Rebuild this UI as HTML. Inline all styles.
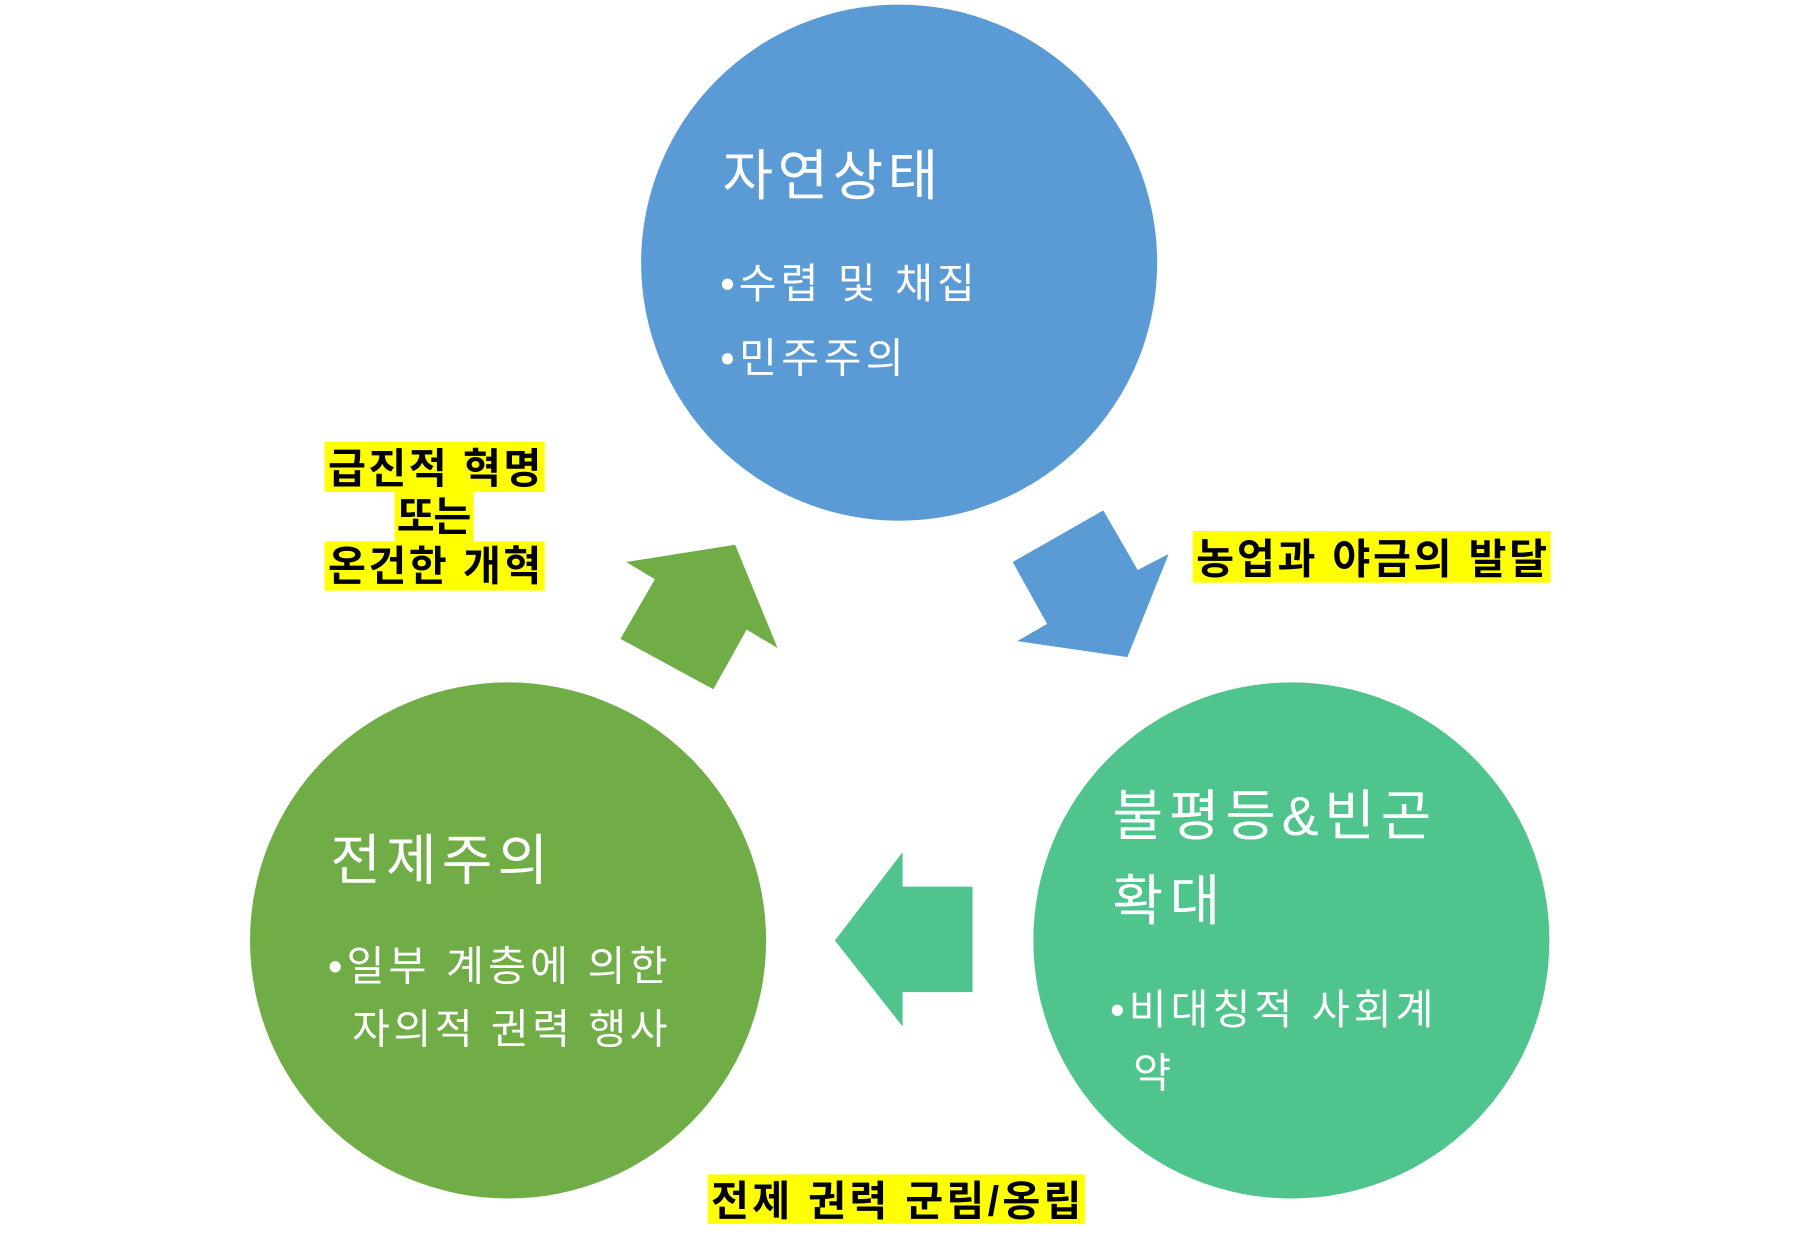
<!DOCTYPE html>
<html><head><meta charset="utf-8"><style>html,body{margin:0;padding:0;background:#fff;}svg{display:block}</style></head>
<body>
<svg width="1796" height="1249" viewBox="0 0 1566 1089" xmlns="http://www.w3.org/2000/svg" preserveAspectRatio="none">
<style>
.w{fill:#fff;font-family:"Liberation Sans","Noto Sans CJK KR",sans-serif;}
.b{fill:#000;font-weight:bold;font-family:"Liberation Sans","Noto Sans CJK KR",sans-serif;font-size:36px;}
</style>
<circle cx="784" cy="229" r="225" fill="#5B9BD5"/>
<circle cx="443" cy="820" r="225" fill="#70AD47"/>
<circle cx="1126" cy="820" r="225" fill="#4FC58D"/>
<polygon points="883,490 962,445 992,497 1019,483 983,573 887,559 913,544" fill="#5B9BD5"/>
<polygon points="541,557 571,505 546,490 641,475 678,565 651,549 622,601" fill="#70AD47"/>
<polygon points="848,773 787,773 787,743 728,820 787,895 787,865 848,865" fill="#4FC58D"/>

<text class="w" x="630" y="170" font-size="48" textLength="188">자연상태</text>
<text class="w" x="628" y="260" font-size="36" textLength="222">•수렵 및 채집</text>
<text class="w" x="628" y="325" font-size="36" textLength="160">•민주주의</text>

<text class="w" x="970" y="728" font-size="48" textLength="278">불평등&amp;빈곤</text>
<text class="w" x="970" y="802" font-size="48" textLength="94">확대</text>
<text class="w" x="968" y="893" font-size="36" textLength="282">•비대칭적 사회계</text>
<text class="w" x="988" y="948" font-size="36" textLength="34">약</text>

<text class="w" x="288" y="767" font-size="48" textLength="190">전제주의</text>
<text class="w" x="286" y="855" font-size="36" textLength="296">•일부 계층에 의한</text>
<text class="w" x="307" y="910" font-size="36" textLength="275">자의적 권력 행사</text>

<rect x="283" y="385" width="192" height="44" fill="#FFFF00"/>
<rect x="344" y="429" width="69" height="43" fill="#FFFF00"/>
<rect x="283" y="472" width="192" height="43" fill="#FFFF00"/>
<text class="b" x="286" y="421" textLength="186">급진적 혁명</text>
<text class="b" x="346" y="463" textLength="65">또는</text>
<text class="b" x="286" y="506" textLength="186">온건한 개혁</text>

<rect x="1040" y="463" width="312" height="45" fill="#FFFF00"/>
<text class="b" x="1043" y="500" textLength="306">농업과 야금의 발달</text>

<rect x="617" y="1024" width="329" height="43" fill="#FFFF00"/>
<text class="b" x="620" y="1060" textLength="323">전제 권력 군림/옹립</text>
</svg>
</body></html>
